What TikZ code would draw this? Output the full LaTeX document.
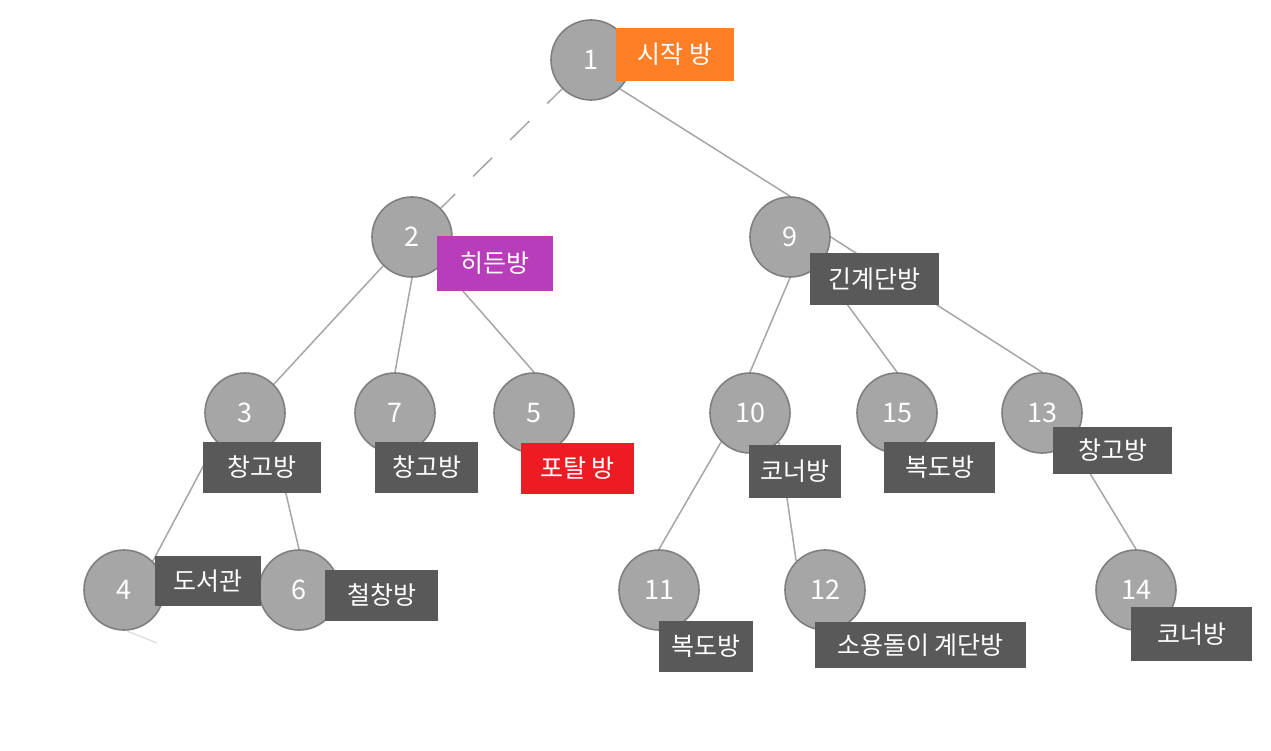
\documentclass[tikz,border=0pt]{standalone}
\usepackage{fontspec}
\setmainfont{Noto Sans CJK KR}
\usetikzlibrary{backgrounds}
\definecolor{nodefill}{HTML}{A6A6A6}
\definecolor{nodeline}{HTML}{7F7F7F}
\definecolor{edgecol}{HTML}{A6A6A6}
\definecolor{faint}{HTML}{DCDCDC}
\definecolor{labdark}{HTML}{595959}
\definecolor{laborange}{HTML}{FF7F27}
\definecolor{labpurple}{HTML}{B83DBA}
\definecolor{labred}{HTML}{ED1C24}
\tikzset{
  room/.style={circle, draw=nodeline, fill=nodefill, line width=1.6pt, minimum size=80pt, inner sep=0pt, text=white, font=\fontsize{27}{27}\selectfont},
  tag/.style={rectangle, fill=#1, text=white, inner sep=0pt, font=\fontsize{25}{25}\selectfont},
  tag/.default=labdark,
  edge/.style={draw=edgecol, line width=1.5pt},
  dashedge/.style={edge, dash pattern=on 27pt off 25pt, dash phase=6pt},
}
\newcommand{\tagbox}[7]{% colour, name, x1, y1, x2, y2, text
  \node[tag=#1, minimum width={#5-#3}, minimum height={#6-#4}] (#2) at ({(#3+#5)/2},{(#4+#6)/2}) {#7};}
\begin{document}
\begin{tikzpicture}[x=1pt,y=-1pt]
\useasboundingbox (0,0) rectangle (1271,751);
% rooms
\node[room] (n1) at (591,60) {1};
\node[room] (n2) at (412,237) {2};
\node[room] (n9) at (790,237) {9};
\node[room] (n3) at (245,413) {3};
\node[room] (n7) at (395,413) {7};
\node[room] (n5) at (534,413) {5};
\node[room] (n10) at (750,413) {10};
\node[room] (n15) at (897,413) {15};
\node[room] (n13) at (1042,413) {13};
\node[room] (n4) at (124,590) {4};
\node[room] (n6) at (299,590) {6};
\node[room] (n11) at (659,590) {11};
\node[room] (n12) at (825,590) {12};
\node[room] (n14) at (1136,590) {14};
% labels
\tagbox{laborange}{l1}{616}{28}{734}{81}{시작 방}
\tagbox{labpurple}{l2}{437}{236}{553}{291}{히든방}
\tagbox{labdark}{l9}{810}{253}{939}{305}{긴계단방}
\tagbox{labdark}{l3}{203}{442}{321}{493}{창고방}
\tagbox{labdark}{l7}{375}{442}{478}{493}{창고방}
\tagbox{labred}{l5}{521}{443}{634}{494}{포탈 방}
\tagbox{labdark}{l10}{749}{445}{841}{498}{코너방}
\tagbox{labdark}{l15}{884}{442}{995}{493}{복도방}
\tagbox{labdark}{l13}{1053}{427}{1172}{474}{창고방}
\tagbox{labdark}{l4}{155}{556}{261}{606}{도서관}
\tagbox{labdark}{l6}{325}{570}{438}{621}{철창방}
\tagbox{labdark}{l11}{659}{621}{753}{672}{복도방}
\tagbox{labdark}{l12}{815}{622}{1026}{668}{소용돌이 계단방}
\tagbox{labdark}{l14}{1131}{607}{1252}{661}{코너방}
\coordinate (s1) at (127,631);
\coordinate (s2) at (157,643);
% edges behind
\begin{scope}[on background layer]
\draw[dashedge] (n1.south west) -- (n2.north east);
\draw[edge] (n1.south east) -- (n9.north);
\draw[edge] (n2.south west) -- (n3.north east);
\draw[edge] (n2.south) -- (n7.north);
\draw[edge] (n2.south east) -- (n5.north);
\draw[edge] (n9.south) -- (n10.north);
\draw[edge] (n9.south east) -- (n15.north);
\draw[edge] (n9.east) -- (n13.north);
\draw[edge] (n3.south west) -- (n4.north east);
\draw[edge] (n3.south east) -- (n6.north);
\draw[edge] (n10.south west) -- (n11.north);
\draw[edge] (n10.south east) -- (n12.north west);
\draw[edge] (n13.south east) -- (n14.north);
\draw[draw=faint, line width=1.2pt] (s1) -- (s2);
\end{scope}
\end{tikzpicture}
\end{document}
